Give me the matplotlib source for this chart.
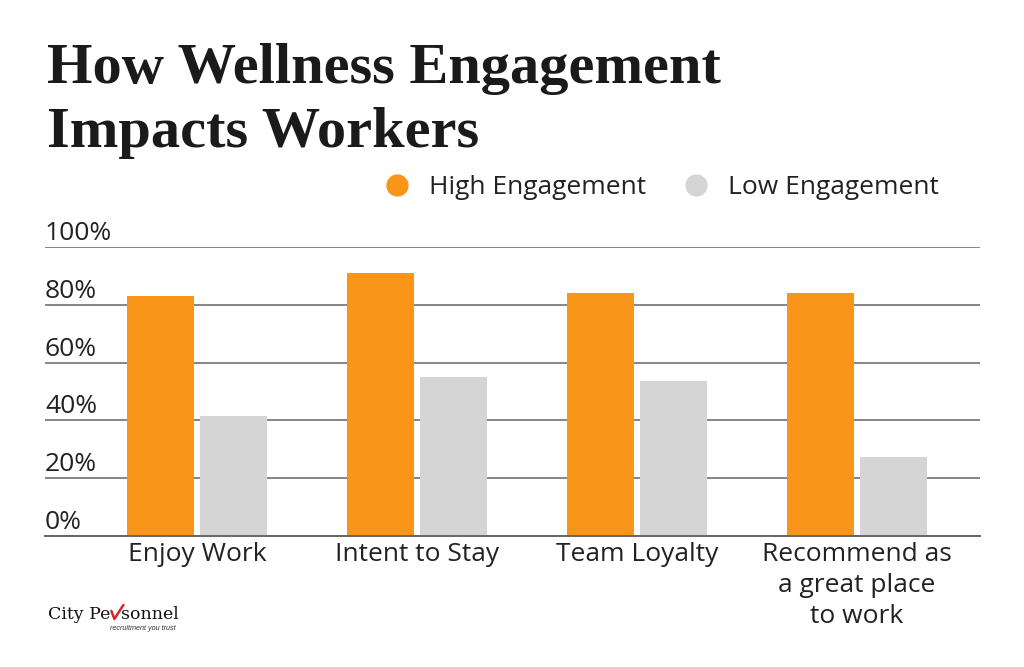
import matplotlib
matplotlib.use("Agg")
import matplotlib.pyplot as plt
from matplotlib.lines import Line2D
import numpy as np

categories = ["Enjoy Work", "Intent to Stay", "Team Loyalty", "Recommend as\na great place\nto work"]
high_engagement = [83, 91, 84, 84]
low_engagement = [41.5, 55, 53.5, 27.5]
yticks = [0, 20, 40, 60, 80, 100]
ytick_labels = ["0%", "20%", "40%", "60%", "80%", "100%"]
series_names = ["High Engagement", "Low Engagement"]

ORANGE = "#F99619"
GRAY = "#D5D5D5"
TEXT = "#222222"
SANS = ["Open Sans", "DejaVu Sans"]

W, H = 1024, 667
fig = plt.figure(figsize=(W / 100, H / 100), dpi=100)
fig.patch.set_facecolor("white")

def fx(px):
    return px / W

def fy(py):
    return 1 - py / H

ax = fig.add_axes([fx(45), fy(536), fx(980) - fx(45), fy(247) - fy(536)])
x = np.arange(len(categories))
bw = 0.305
off = 0.166
ax.bar(x - off, high_engagement, width=bw, color=ORANGE, zorder=3)
ax.bar(x + off, low_engagement, width=bw, color=GRAY, zorder=3)

ax.set_xlim(-0.691, 3.559)
ax.set_ylim(0, 100)
ax.set_yticks(yticks)
ax.yaxis.grid(True, color="#858585", linewidth=1.4, zorder=1)
ax.tick_params(axis="y", length=0, labelleft=False)
ax.set_xticks(x)
ax.set_xticklabels(categories, fontsize=19, family=SANS, color=TEXT, linespacing=1.32)
ax.tick_params(axis="x", length=0, pad=4)
for s in ["top", "right", "left"]:
    ax.spines[s].set_visible(False)
ax.spines["bottom"].set_color("#666666")
ax.spines["bottom"].set_linewidth(1.4)
ax.spines["bottom"].set_zorder(4)
ax.set_facecolor("none")

for v, lab in zip(yticks, ytick_labels):
    ax.annotate(lab, xy=(0, v), xycoords=("axes fraction", "data"),
                xytext=(0, 5), textcoords="offset points",
                ha="left", va="baseline", fontsize=19, family=SANS, color=TEXT)

handles = [Line2D([], [], marker="o", linestyle="none", markersize=15,
                  markerfacecolor=c, markeredgecolor=c) for c in (ORANGE, GRAY)]
fig.legend(handles, series_names, loc="center left",
           bbox_to_anchor=(fx(384), fy(188)), ncol=2, frameon=False,
           prop={"family": SANS, "size": 19}, handlelength=1.0,
           handletextpad=0.7, columnspacing=1.4, labelcolor=TEXT,
           borderaxespad=0, borderpad=0)

fig.text(fx(47), fy(83), "How Wellness Engagement", family="Liberation Serif",
         weight="bold", fontsize=42, color="#1a1a1a", va="baseline", ha="left")
fig.text(fx(47), fy(147), "Impacts Workers", family="Liberation Serif",
         weight="bold", fontsize=42, color="#1a1a1a", va="baseline", ha="left")

# logo
t1 = fig.text(fx(48), fy(619), "City Pe", family="DejaVu Serif",
              fontsize=12.5, color="#111111", va="baseline", ha="left")
fig.canvas.draw()
bb = t1.get_window_extent()
xr = bb.x1
fig.text(fx(xr + 11), fy(619), "sonnel", family="DejaVu Serif",
         fontsize=12.5, color="#111111", va="baseline", ha="left")
fig.text(fx(176), fy(630), "recruitment you trust", family="Liberation Sans",
         style="italic", fontsize=5.2, color="#333333", va="baseline", ha="right")
fig.add_artist(Line2D([fx(xr + 1), fx(xr + 4), fx(xr + 13)],
                      [fy(611), fy(619), fy(605)],
                      color="#d7262b", linewidth=1.8, solid_capstyle="round"))

fig.savefig("out.png", dpi=100, facecolor="white")
